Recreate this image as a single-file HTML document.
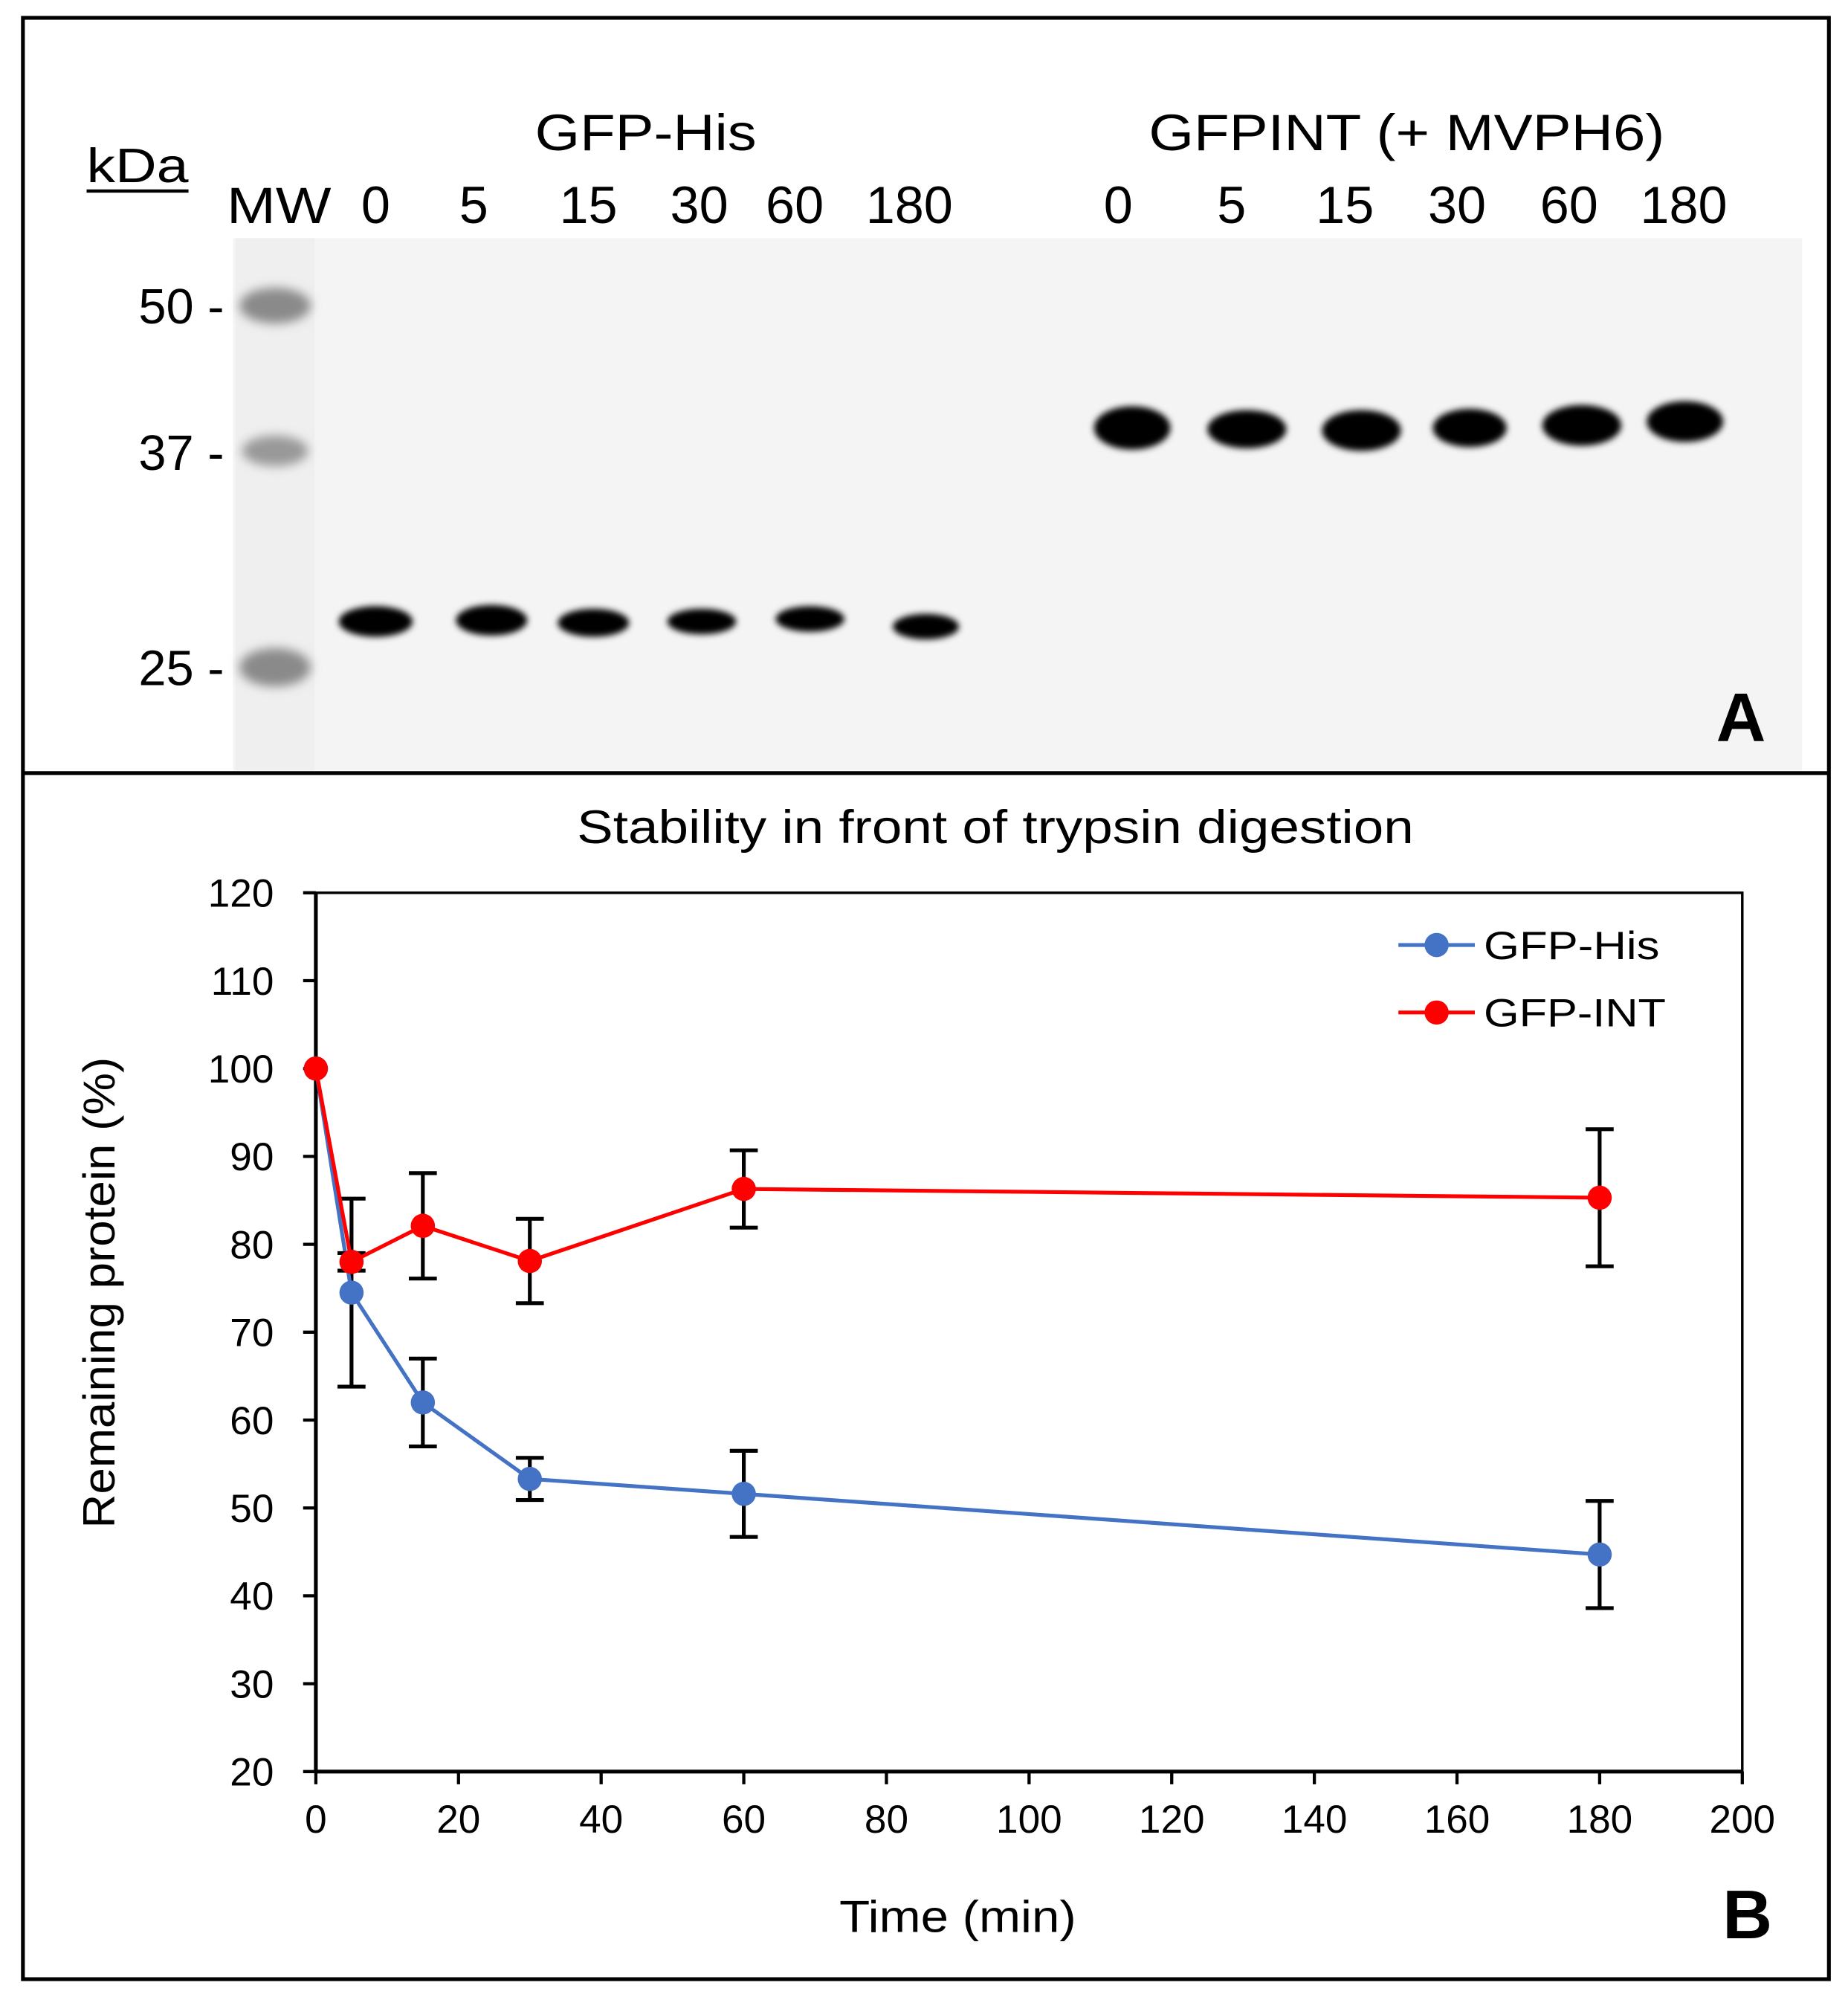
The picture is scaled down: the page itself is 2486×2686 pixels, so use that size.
<!DOCTYPE html>
<html><head><meta charset="utf-8">
<style>
html,body{margin:0;padding:0;background:#fff;}
svg{display:block;font-family:"Liberation Sans",Arial,sans-serif;}
</style></head>
<body>
<svg id="fig" width="2486" height="2686" viewBox="0 0 1451 1568" preserveAspectRatio="none" xmlns="http://www.w3.org/2000/svg">
<defs>
<filter id="blur" x="-50%" y="-50%" width="200%" height="200%"><feGaussianBlur stdDeviation="2.5"/></filter>
<filter id="blur2" x="-50%" y="-50%" width="200%" height="200%"><feGaussianBlur stdDeviation="4"/></filter>
</defs>
<rect x="0" y="0" width="1451" height="1568" fill="#fff"/>
<g>
<rect x="183" y="187" width="1232" height="418" fill="#f4f4f4"/>
<rect x="185" y="187" width="62" height="418" fill="#efefef"/>
<g filter="url(#blur2)" fill="#8a8a8a">
<ellipse cx="216" cy="240" rx="28" ry="14"/>
<ellipse cx="216" cy="354" rx="26" ry="12" fill="#999"/>
<ellipse cx="216" cy="524" rx="28" ry="15"/>
</g>
<g filter="url(#blur)" fill="#000">
<ellipse cx="295" cy="488" rx="29" ry="12"/>
<ellipse cx="386" cy="487" rx="28" ry="12"/>
<ellipse cx="466" cy="489" rx="28" ry="11"/>
<ellipse cx="551" cy="488" rx="27" ry="10"/>
<ellipse cx="636" cy="486" rx="27" ry="10"/>
<ellipse cx="727" cy="492" rx="26" ry="10"/>
<ellipse cx="889" cy="336" rx="30" ry="17"/>
<ellipse cx="979" cy="337" rx="31" ry="15"/>
<ellipse cx="1069" cy="338" rx="31" ry="16"/>
<ellipse cx="1154" cy="336" rx="29" ry="15"/>
<ellipse cx="1242" cy="334" rx="31" ry="16"/>
<ellipse cx="1323" cy="331" rx="30" ry="16"/>
</g>
<text x="68" y="143" font-size="38" textLength="80" lengthAdjust="spacingAndGlyphs">kDa</text>
<line x1="68" y1="150" x2="148" y2="150" stroke="#000" stroke-width="2.5"/>
<text x="178" y="175" font-size="40" textLength="82" lengthAdjust="spacingAndGlyphs">MW</text>
<text x="420" y="118" font-size="40" textLength="174" lengthAdjust="spacingAndGlyphs">GFP-His</text>
<text x="902" y="118" font-size="40" textLength="405" lengthAdjust="spacingAndGlyphs">GFPINT (+ MVPH6)</text>
<g font-size="41" text-anchor="middle">
<text x="295" y="175">0</text><text x="372" y="175">5</text><text x="462" y="175">15</text><text x="549" y="175">30</text><text x="624" y="175">60</text><text x="714" y="175">180</text>
<text x="878" y="175">0</text><text x="967" y="175">5</text><text x="1056" y="175">15</text><text x="1144" y="175">30</text><text x="1232" y="175">60</text><text x="1322" y="175">180</text>
</g>
<g font-size="39" text-anchor="end">
<text x="176" y="254">50 -</text><text x="176" y="369">37 -</text><text x="176" y="538">25 -</text>
</g>
<text x="1367" y="582" font-size="54" font-weight="bold" text-anchor="middle">A</text>
</g>
<rect x="18" y="14" width="1418" height="1540" fill="none" stroke="#000" stroke-width="3"/>
<line x1="18" y1="607" x2="1436" y2="607" stroke="#000" stroke-width="3"/>
<g id="chart">
<text x="453" y="662" font-size="37" textLength="657" lengthAdjust="spacingAndGlyphs">Stability in front of trypsin digestion</text>
<text x="659" y="1517" font-size="35" textLength="186" lengthAdjust="spacingAndGlyphs">Time (min)</text>
<text transform="translate(90,1200) rotate(-90)" font-size="35" textLength="370" lengthAdjust="spacingAndGlyphs">Remaining protein (%)</text>
<text x="1372" y="1522" font-size="54" font-weight="bold" text-anchor="middle">B</text>
</g>
</svg>
<script>
const times = [0, 5, 15, 30, 60, 180];
const hisValues = [100, 74.5, 62, 53.3, 51.6, 44.7];
const hisErrors = [0, 10.7, 5, 2.4, 4.9, 6.1];
const intValues = [100, 78, 82.1, 78.1, 86.3, 85.3];
const intErrors = [0, 1, 6, 4.8, 4.4, 7.8];
const xTicks = [0, 20, 40, 60, 80, 100, 120, 140, 160, 180, 200];
const yTicks = [20, 30, 40, 50, 60, 70, 80, 90, 100, 110, 120];

const NS = "http://www.w3.org/2000/svg";
const L = 248, R = 1368, T = 701, B = 1391;
function xs(v){ return L + (v - 0) / 200 * (R - L); }
function ys(v){ return B - (v - 20) / 100 * (B - T); }
const chart = document.getElementById('chart');
function mk(tag, attrs){ const e = document.createElementNS(NS, tag); for (const k in attrs) e.setAttribute(k, attrs[k]); chart.appendChild(e); return e; }

let frame = mk('rect', {x:L, y:T, width:R-L, height:B-T, fill:'none', stroke:'#000', 'stroke-width':2});


let yax = mk('line', {x1:L, y1:T, x2:L, y2:B, stroke:'#000', 'stroke-width':3});


let xax = mk('line', {x1:L, y1:B, x2:R, y2:B, stroke:'#000', 'stroke-width':3});



yTicks.forEach(v => {
  const t = mk('line', {x1:L-10, y1:ys(v), x2:L, y2:ys(v), stroke:'#000', 'stroke-width':2.5});
  
  
  const tx = mk('text', {x:L-33, y:ys(v)+11, 'font-size':31, 'text-anchor':'end'});
  tx.textContent = v;
  
  
});
xTicks.forEach(v => {
  const t = mk('line', {x1:xs(v), y1:B, x2:xs(v), y2:B+10, stroke:'#000', 'stroke-width':2.5});
  
  
  const tx = mk('text', {x:xs(v), y:B+48, 'font-size':31, 'text-anchor':'middle'});
  tx.textContent = v;
  
  
});

function series(vals, errs, color, name){
  vals.forEach((v,i) => {
    if (errs[i] > 0) {
      const x = xs(times[i]);
      const e = mk('path', {d:`M${x},${ys(v+errs[i])}V${ys(v-errs[i])}M${x-11},${ys(v+errs[i])}H${x+11}M${x-11},${ys(v-errs[i])}H${x+11}`, stroke:'#000', 'stroke-width':3, fill:'none'});
      
      
    }
  });
  const d = vals.map((v,i) => (i ? 'L' : 'M') + xs(times[i]) + ',' + ys(v)).join('');
  const p = mk('path', {d:d, stroke:color, 'stroke-width':3, fill:'none'});
  
  
  vals.forEach((v,i) => {
    const c = mk('circle', {cx:xs(times[i]), cy:ys(v), r:9.5, fill:color});
    
    
  });
}
series(hisValues, hisErrors, '#4472c4', 'gfp-his');
series(intValues, intErrors, '#ff0000', 'gfp-int');

[['GFP-His', '#4472c4', 742, 138], ['GFP-INT', '#ff0000', 795, 143]].forEach(([lab, col, y, w]) => {
  const l = mk('line', {x1:1098, y1:y, x2:1158, y2:y, stroke:col, 'stroke-width':3});
  
  
  const c = mk('circle', {cx:1128, cy:y, r:9.5, fill:col});
  
  
  const t = mk('text', {x:1165, y:y+11, 'font-size':31, textLength:w, lengthAdjust:'spacingAndGlyphs'});
  t.textContent = lab;
  
  
});
</script>
</body></html>
